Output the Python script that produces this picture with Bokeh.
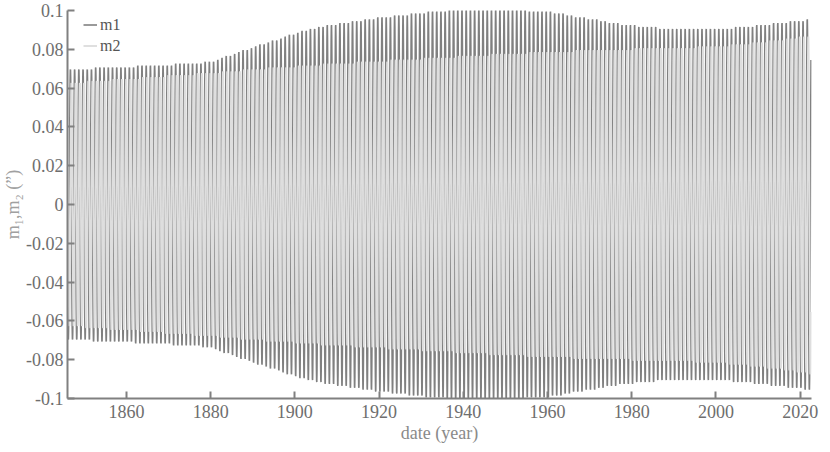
import numpy as np
from bokeh.plotting import figure
from bokeh.models import Range1d, FixedTicker, Legend, LegendItem
from bokeh.embed import file_html
from bokeh.resources import INLINE

# ---- data ----
start_year = 1846
end_year = 2022.6
period_years = 1.0
m1_start_value = -0.025  # m1 value at the first sample (going down)

# m1 peak amplitude per yearly cycle, 1846 .. 2022
m1_amp = [
    .070, .070, .070, .070,
    .070, .070, .071, .071, .071, .071, .071, .071, .071, .071,
    .071, .071, .072, .072, .072, .072, .072, .072, .072, .072,
    .072, .073, .073, .073, .073, .073, .073, .073, .074, .074,
    .074, .075, .076, .077, .077, .078, .079, .080, .080, .081,
    .082, .083, .083, .084, .085, .085, .086, .087, .088, .088,
    .089, .090, .090, .091, .091, .092, .092, .093, .093, .093,
    .094, .094, .094, .095, .095, .095, .096, .096, .096, .097,
    .097, .097, .097, .098, .098, .098, .098, .099, .099, .099,
    .099, .100, .100, .100, .100, .100, .101, .101, .101, .101,
    .101, .101, .101, .101, .101, .101, .101, .101, .101, .101,
    .101, .101, .101, .101, .101, .100, .100, .100, .100, .100,
    .100, .099, .099, .099, .098, .098, .097, .097, .097, .096,
    .096, .096, .095, .095, .094, .094, .094, .093, .093, .093,
    .093, .092, .092, .092, .092, .092, .091, .091, .091, .091,
    .091, .091, .091, .091, .091, .091, .091, .091, .091, .091,
    .091, .091, .091, .091, .092, .092, .092, .092, .092, .093,
    .093, .093, .093, .094, .094, .094, .094, .095, .095, .095,
    .095, .096, .096,
]
# m2 peak amplitude per yearly cycle, 1846 .. 2022
m2_amp = [
    .063, .063, .063, .063,
    .064, .064, .064, .064, .064, .064, .065, .065, .065, .065,
    .065, .065, .065, .066, .066, .066, .066, .066, .066, .067,
    .067, .067, .067, .067, .067, .067, .068, .068, .068, .068,
    .068, .068, .069, .069, .069, .069, .069, .070, .070, .070,
    .070, .070, .070, .071, .071, .071, .071, .071, .071, .071,
    .072, .072, .072, .072, .072, .072, .073, .073, .073, .073,
    .073, .073, .073, .073, .074, .074, .074, .074, .074, .074,
    .074, .074, .075, .075, .075, .075, .075, .075, .075, .075,
    .076, .076, .076, .076, .076, .076, .076, .076, .077, .077,
    .077, .077, .077, .077, .077, .077, .078, .078, .078, .078,
    .078, .078, .078, .078, .078, .079, .079, .079, .079, .079,
    .079, .079, .079, .079, .079, .079, .080, .080, .080, .080,
    .080, .080, .080, .080, .080, .080, .080, .080, .080, .080,
    .081, .081, .081, .081, .081, .081, .081, .081, .081, .081,
    .081, .081, .081, .081, .081, .082, .082, .082, .082, .082,
    .082, .082, .082, .083, .083, .083, .083, .083, .084, .084,
    .084, .084, .085, .085, .085, .085, .086, .086, .086, .087,
    .087, .087, .088,
]

x_ticks = [1860, 1880, 1900, 1920, 1940, 1960, 1980, 2000, 2020]
y_ticks = [-0.1, -0.08, -0.06, -0.04, -0.02, 0, 0.02, 0.04, 0.06, 0.08, 0.1]
y_tick_labels = ["-0.1", "-0.08", "-0.06", "-0.04", "-0.02", "0",
                 "0.02", "0.04", "0.06", "0.08", "0.1"]
series_names = ["m1", "m2"]

# ---- build the oscillating series: one cycle per year, amplitude from arrays ----
phase0 = np.arccos(m1_start_value / m1_amp[0])  # going down after the peak
n_per_cycle = 24
ts, v1, v2 = [], [], []
for k, (a1, a2) in enumerate(zip(m1_amp, m2_amp)):
    frac = np.arange(n_per_cycle) / n_per_cycle
    t = start_year + k * period_years + frac * period_years
    ang = phase0 + 2 * np.pi * frac
    ts.append(t)
    v1.append(a1 * np.cos(ang))
    v2.append(a2 * np.sin(ang))
t = np.concatenate(ts)
m1 = np.concatenate(v1)
m2 = np.concatenate(v2)
keep = t <= end_year
t, m1, m2 = t[keep], m1[keep], m2[keep]

FONT = "Liberation Serif"
FRAME_W, FRAME_H = 744, 388

p = figure(frame_width=FRAME_W, frame_height=FRAME_H,
           output_backend="svg", toolbar_location=None,
           x_range=Range1d(1846, 2022.7), y_range=Range1d(-0.1, 0.1),
           min_border_top=10, min_border_bottom=5,
           min_border_left=5, min_border_right=8)
p.outline_line_color = None
p.xgrid.visible = False
p.ygrid.visible = False
p.background_fill_color = "white"
p.border_fill_color = "white"

r1 = p.line(t, m1, line_color="#808080", line_width=1.6)
r2 = p.line(t, m2, line_color="#dedede", line_width=1.9)

for ax in (p.xaxis[0], p.yaxis[0]):
    ax.axis_line_color = "#808080"
    ax.axis_line_width = 2
    ax.major_tick_line_color = "#808080"
    ax.major_tick_line_width = 2
    ax.major_tick_in = 7
    ax.major_tick_out = 0
    ax.minor_tick_line_color = None
    ax.major_label_text_font = FONT
    ax.major_label_text_font_size = "18px"
    ax.major_label_text_color = "#6e6e6e"
    ax.axis_label_text_font = FONT
    ax.axis_label_text_font_size = "18px"
    ax.axis_label_text_font_style = "normal"
    ax.axis_label_text_color = "#8a8a8a"

p.xaxis.ticker = FixedTicker(ticks=x_ticks)
p.yaxis.ticker = FixedTicker(ticks=y_ticks)
p.yaxis.major_label_overrides = {v: s for v, s in zip(y_ticks, y_tick_labels)}
p.xaxis.major_label_standoff = 6
p.yaxis.major_label_standoff = 4
p.xaxis.axis_label_standoff = 2
p.yaxis.axis_label_standoff = 0
p.xaxis.axis_label = "date (year)"
p.yaxis.axis_label = "m\u2081,m\u2082 (\u201d)"
p.yaxis.axis_label_text_color = "#a0a0a0"

legend = Legend(items=[LegendItem(label=series_names[0], renderers=[r1]),
                       LegendItem(label=series_names[1], renderers=[r2])],
                location=(16, FRAME_H - 42 - 4))
legend.border_line_color = None
legend.background_fill_alpha = 0
legend.padding = 0
legend.margin = 0
legend.spacing = 0
legend.glyph_width = 14
legend.glyph_height = 21
legend.label_height = 21
legend.label_standoff = 3
legend.label_text_font = FONT
legend.label_text_font_size = "16px"
legend.label_text_color = "#555555"
p.add_layout(legend)

open("out.html", "w").write(file_html(p, INLINE))
